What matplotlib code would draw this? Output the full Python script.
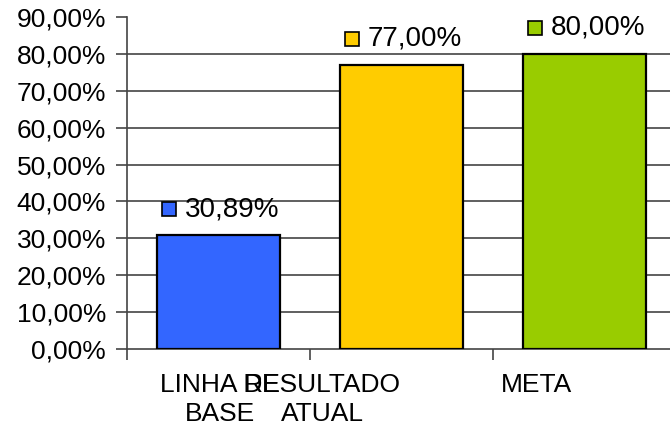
import matplotlib
matplotlib.use("Agg")
import matplotlib.pyplot as plt
from matplotlib.ticker import FuncFormatter
from matplotlib.transforms import ScaledTranslation

plt.rcParams["font.family"] = ["Liberation Sans", "DejaVu Sans"]

# --- data ---
categories = ["LINHA DE\nBASE", "RESULTADO\nATUAL", "META"]
values = [30.89, 77.00, 80.00]
colors = ["#3366FF", "#FFCC00", "#99CC00"]
label_offsets = [0.01, -0.43, -0.26]  # labels sit off-centre in the original

fig = plt.figure(figsize=(6.7, 4.25), dpi=100)
ax = fig.add_axes([127 / 670, 76 / 425, 549 / 670, 332 / 425])

x = [i + 0.5 for i in range(len(values))]
ax.bar(x, values, width=0.667, color=colors, edgecolor="black", linewidth=1.6, zorder=3)

ax.set_xlim(0, 3)
ax.set_ylim(0, 90)
ax.set_yticks(range(0, 91, 10))
ax.yaxis.set_major_formatter(FuncFormatter(lambda v, p: f"{v:.2f}%".replace(".", ",")))
ax.tick_params(axis="y", labelsize=19, length=8, width=1.2, color="#444444", pad=7)
ax.set_xticks([0, 1, 2, 3])
ax.set_xticklabels([])
ax.tick_params(axis="x", length=8, width=1.2, color="#444444")

# gridlines 10..80 (no line at the top)
for gy in range(10, 90, 10):
    ax.axhline(gy, color="#444444", linewidth=1.2, zorder=1)

for s in ["top", "right"]:
    ax.spines[s].set_visible(False)
for s in ["left", "bottom"]:
    ax.spines[s].set_color("#444444")
    ax.spines[s].set_linewidth(1.2)

# value labels with a small legend key
key_shift = ScaledTranslation(-50 / 100, 26 / 100, fig.dpi_scale_trans)
for xi, v, c in zip(x, values, colors):
    ax.plot([xi], [v], marker="s", markersize=10, markerfacecolor=c,
            markeredgecolor="black", markeredgewidth=1.2, linestyle="none",
            transform=ax.transData + key_shift, clip_on=False, zorder=4)
    ax.annotate(f"{v:.2f}%".replace(".", ","), xy=(xi, v), xytext=(-34 * 0.72, 26 * 0.72),
                textcoords="offset points", ha="left", va="center", fontsize=20)

# category labels
for xi, lab, off in zip(x, categories, label_offsets):
    ax.text(xi + off, -6.5, lab, ha="center", va="top", fontsize=19,
            linespacing=1.25)

fig.savefig("out.png", dpi=100)
